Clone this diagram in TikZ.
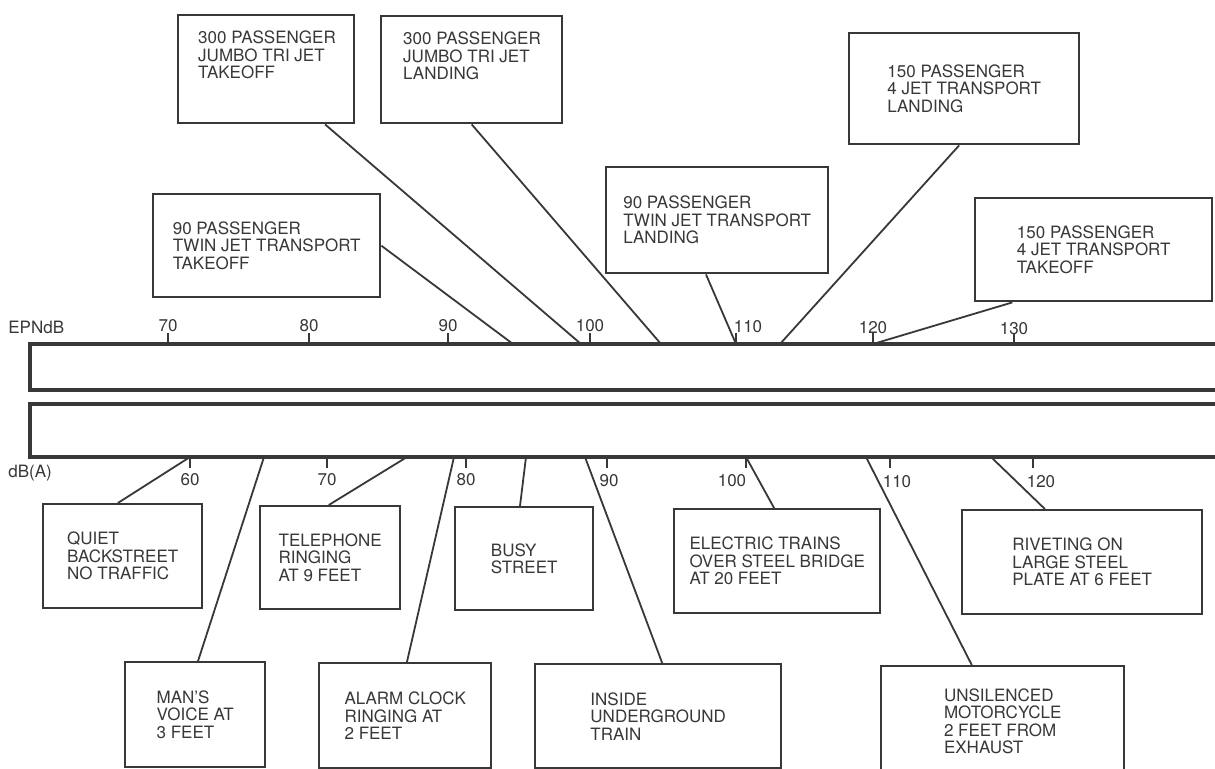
\documentclass[tikz,border=0pt]{standalone}
\usepackage{fontspec}
\setmainfont{TeX Gyre Heros}
\usetikzlibrary{calc}
\definecolor{ink}{gray}{0.22}
\newcommand\labfont{\fontsize{8.5}{8.75}\selectfont}
\begin{document}
\begin{tikzpicture}[x=0.5pt,y=-0.5pt,
  box/.style={draw=ink, line width=1.2pt, inner sep=0pt, anchor=north west, align=left, text=ink, font=\labfont},
  lbl/.style={text=ink, font=\labfont, inner sep=0pt, align=left},
  conn/.style={draw=ink, line width=0.9pt},
  bar/.style={draw=ink, line width=2pt, line join=miter},
  tickmark/.style={draw=ink, line width=1pt}]
\useasboundingbox (0,0) rectangle (1215,768);
\clip (0,0) rectangle (1215,768);
\fill[white] (0,0) rectangle (1215,768);

% scale bars
\draw[bar] (1220,344) -- (30,344) -- (30,390) -- (1220,390);
\draw[bar] (1220,404) -- (30,404) -- (30,457) -- (1220,457);

% scale names
\node[lbl, anchor=west] (epn) at (8,327) {EPNdB};
\node[lbl, anchor=west] (dba) at (8,473) {dB(A)};

% EPNdB ticks and labels
\foreach \x in {168,309,448,590,736,873,1014} { \draw[tickmark] (\x,333) -- (\x,344); }
\node[lbl] (e70) at (168,326) {70};
\node[lbl] (e80) at (309,326) {80};
\node[lbl] (e90) at (448,326) {90};
\node[lbl] (e100) at (590,326) {100};
\node[lbl] (e110) at (748,327) {110};
\node[lbl] (e120) at (873,328) {120};
\node[lbl] (e130) at (1014,329) {130};

% dB(A) ticks and labels
\foreach \x in {190,327,466,607,746,890,1033} { \draw[tickmark] (\x,457) -- (\x,468); }
\node[lbl] (d60) at (190,480) {60};
\node[lbl] (d70) at (327,480) {70};
\node[lbl] (d80) at (466,480) {80};
\node[lbl] (d90) at (609,481) {90};
\node[lbl] (d100) at (732,481) {100};
\node[lbl] (d110) at (897,482) {110};
\node[lbl] (d120) at (1041,482) {120};

% connector end points on the bars
\coordinate (p1) at (581,344);
\coordinate (p2) at (661,344);
\coordinate (p3) at (513,344);
\coordinate (p4) at (736,344);
\coordinate (p5) at (780,344);
\coordinate (p6) at (873,344);
\coordinate (q1) at (190,457);
\coordinate (q2) at (264,457);
\coordinate (q3) at (407,457);
\coordinate (q4) at (454,457);
\coordinate (q5) at (526,457);
\coordinate (q6) at (585,457);
\coordinate (q7) at (746,457);
\coordinate (q8) at (866,457);
\coordinate (q9) at (991,457);

% top boxes
\node[box, minimum width=88pt, minimum height=54pt] (t1) at (177,14) {};
\node[lbl] (t1l) at (267,55) {300 PASSENGER\\JUMBO TRI JET\\TAKEOFF};
\node[box, minimum width=90.5pt, minimum height=53.5pt] (t2) at (380,15) {};
\node[lbl] (t2l) at (472,56) {300 PASSENGER\\JUMBO TRI JET\\LANDING};
\node[box, minimum width=113.5pt, minimum height=51.5pt] (t3) at (152,193) {90 PASSENGER\\TWIN JET TRANSPORT\\TAKEOFF};
\node[box, minimum width=111pt, minimum height=53pt] (t4) at (605,166) {90 PASSENGER\\TWIN JET TRANSPORT\\LANDING};
\node[box, minimum width=115pt, minimum height=55.5pt] (t5) at (848,32) {150 PASSENGER\\4 JET TRANSPORT\\LANDING};
\node[box, minimum width=118.5pt, minimum height=51.5pt] (t6) at (974,197) {150 PASSENGER\\4 JET TRANSPORT\\TAKEOFF};

% bottom boxes
\node[box, minimum width=79.5pt, minimum height=52pt] (b1) at (42,503) {QUIET\\BACKSTREET\\NO TRAFFIC};
\node[box, minimum width=70pt, minimum height=52.5pt] (b2) at (124,661) {MAN’S\\VOICE AT\\3 FEET};
\node[box, minimum width=70pt, minimum height=51.5pt] (b3) at (259,505) {TELEPHONE\\RINGING\\AT 9 FEET};
\node[box, minimum width=86pt, minimum height=52.5pt] (b4) at (318,662) {ALARM CLOCK\\RINGING AT\\2 FEET};
\node[box, minimum width=69pt, minimum height=51.5pt] (b5) at (454,506) {BUSY\\STREET};
\node[box, minimum width=123pt, minimum height=52pt] (b6) at (534,663) {INSIDE\\UNDERGROUND\\TRAIN};
\node[box, minimum width=103pt, minimum height=52pt] (b7) at (673,508) {ELECTRIC TRAINS\\OVER STEEL BRIDGE\\AT 20 FEET};
\node[box, minimum width=121.5pt, minimum height=55pt] (b8) at (880,665) {UNSILENCED\\MOTORCYCLE\\2 FEET FROM\\EXHAUST};
\node[box, minimum width=120pt, minimum height=52pt] (b9) at (961,509) {RIVETING ON\\LARGE STEEL\\PLATE AT 6 FEET};

% connectors, top
\draw[conn] ($(t1.south west)!0.83!(t1.south east)$) -- (p1);
\draw[conn] ($(t2.south west)!0.5!(t2.south east)$) -- (p2);
\draw[conn] (t3.east) -- (p3);
\draw[conn] ($(t4.south west)!0.45!(t4.south east)$) -- (p4);
\draw[conn] ($(t5.south west)!0.478!(t5.south east)$) -- (p5);
\draw[conn] ($(t6.south west)!0.16!(t6.south east)$) -- (p6);

% connectors, bottom
\draw[conn] ($(b1.north west)!0.47!(b1.north east)$) -- (q1);
\draw[conn] ($(b2.north west)!0.52!(b2.north east)$) -- (q2);
\draw[conn] ($(b3.north west)!0.49!(b3.north east)$) -- (q3);
\draw[conn] ($(b4.north west)!0.51!(b4.north east)$) -- (q4);
\draw[conn] ($(b5.north west)!0.47!(b5.north east)$) -- (q5);
\draw[conn] ($(b6.north west)!0.516!(b6.north east)$) -- (q6);
\draw[conn] ($(b7.north west)!0.485!(b7.north east)$) -- (q7);
\draw[conn] ($(b8.north west)!0.374!(b8.north east)$) -- (q8);
\draw[conn] ($(b9.north west)!0.346!(b9.north east)$) -- (q9);
\end{tikzpicture}
\end{document}
